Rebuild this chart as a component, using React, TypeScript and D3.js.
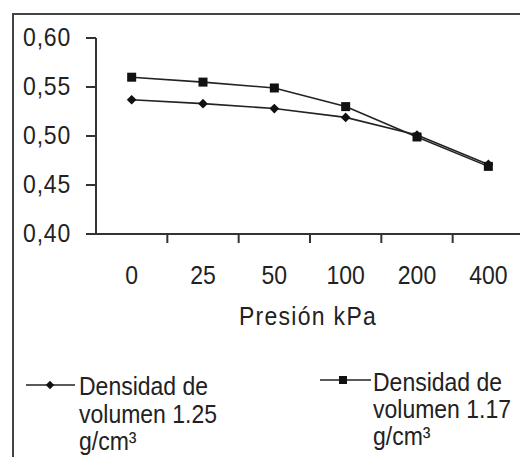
import React from "react";
import * as d3 from "d3";

const categories = ["0", "25", "50", "100", "200", "400"];
const seriesA = [0.537, 0.533, 0.528, 0.519, 0.501, 0.471]; // Densidad de volumen 1.25 (diamond)
const seriesB = [0.56, 0.555, 0.549, 0.53, 0.499, 0.469]; // Densidad de volumen 1.17 (square)
const yTicks = [0.4, 0.45, 0.5, 0.55, 0.6];
const legendA = ["Densidad de", "volumen 1.25", "g/cm³"];
const legendB = ["Densidad de", "volumen 1.17", "g/cm³"];
const xTitle = "Presión kPa";

const W = 520;
const H = 457;
const FONT = "'Liberation Sans', Arial, sans-serif";
const FS = 23;
const SY = 1.1;

function T(props: {
  x: number;
  y: number;
  anchor?: string;
  dy?: string;
  ls?: number;
  children: React.ReactNode;
}) {
  return (
    <text
      transform={`translate(${props.x},${props.y}) scale(1,${SY})`}
      textAnchor={props.anchor || "start"}
      dy={props.dy}
      fontSize={FS}
      fill="#222"
      letterSpacing={props.ls || 0}
    >
      {props.children}
    </text>
  );
}

export default function App() {
  const x = d3.scaleBand<string>().domain(categories).range([96, 524]).padding(0);
  const y = d3.scaleLinear().domain([0.4, 0.6]).range([234, 38]);
  const cx = (i: number) => (x(categories[i]) as number) + x.bandwidth() / 2;
  const line = d3
    .line<number>()
    .x((_, i) => cx(i))
    .y((d) => y(d));
  const fmt = (v: number) => v.toFixed(2).replace(".", ",");
  const diamond = d3.symbol().type(d3.symbolDiamond2).size(60)() as string;
  const diamondSmall = d3.symbol().type(d3.symbolDiamond2).size(45)() as string;
  const boundaries = categories.slice(1).map((c) => x(c) as number);
  const ink = "#111";

  return (
    <svg
      width={W}
      height={H}
      style={{ position: "absolute", left: 0, top: 0, background: "#fff" }}
      fontFamily={FONT}
    >
      <rect x={0} y={0} width={W} height={H} fill="#fff" />
      {/* outer frame */}
      <path d={`M13,${H + 5} L13,14 L${W + 5},14`} fill="none" stroke="#444" strokeWidth={2} />

      {/* y axis */}
      <line x1={96} x2={96} y1={y(0.6)} y2={y(0.4)} stroke="#333" strokeWidth={2} />
      {yTicks.map((t) => (
        <g key={t}>
          <line x1={86} x2={96} y1={y(t)} y2={y(t)} stroke="#333" strokeWidth={2} />
          <T x={71} y={y(t) + 8} anchor="end" ls={0.8}>
            {fmt(t)}
          </T>
        </g>
      ))}

      {/* x axis */}
      <line x1={95} x2={W} y1={234} y2={234} stroke="#333" strokeWidth={2} />
      {boundaries.map((b, i) => (
        <line key={i} x1={b} x2={b} y1={234} y2={243} stroke="#333" strokeWidth={2} />
      ))}
      {categories.map((c, i) => (
        <T key={c} x={cx(i)} y={284} anchor="middle">
          {c}
        </T>
      ))}
      <T x={308} y={325} anchor="middle" ls={1.3}>
        {xTitle}
      </T>

      {/* series */}
      <path d={line(seriesA) as string} fill="none" stroke="#222" strokeWidth={1.6} />
      <path d={line(seriesB) as string} fill="none" stroke="#222" strokeWidth={1.6} />
      {seriesA.map((v, i) => (
        <path key={"a" + i} d={diamond} transform={`translate(${cx(i)},${y(v)})`} fill={ink} />
      ))}
      {seriesB.map((v, i) => (
        <rect key={"b" + i} x={cx(i) - 4.5} y={y(v) - 4.5} width={9} height={9} fill={ink} />
      ))}

      {/* legend A */}
      <line x1={26} x2={75} y1={385} y2={385} stroke="#222" strokeWidth={1.6} />
      <path d={diamondSmall} transform="translate(50,385)" fill={ink} />
      {legendA.map((t, i) => (
        <T key={i} x={79} y={395 + i * 27.5}>
          {t}
        </T>
      ))}

      {/* legend B */}
      <line x1={320} x2={371} y1={380} y2={380} stroke="#222" strokeWidth={1.6} />
      <rect x={339} y={376} width={8} height={8} fill={ink} />
      {legendB.map((t, i) => (
        <T key={i} x={373} y={391 + i * 27}>
          {t}
        </T>
      ))}
    </svg>
  );
}
